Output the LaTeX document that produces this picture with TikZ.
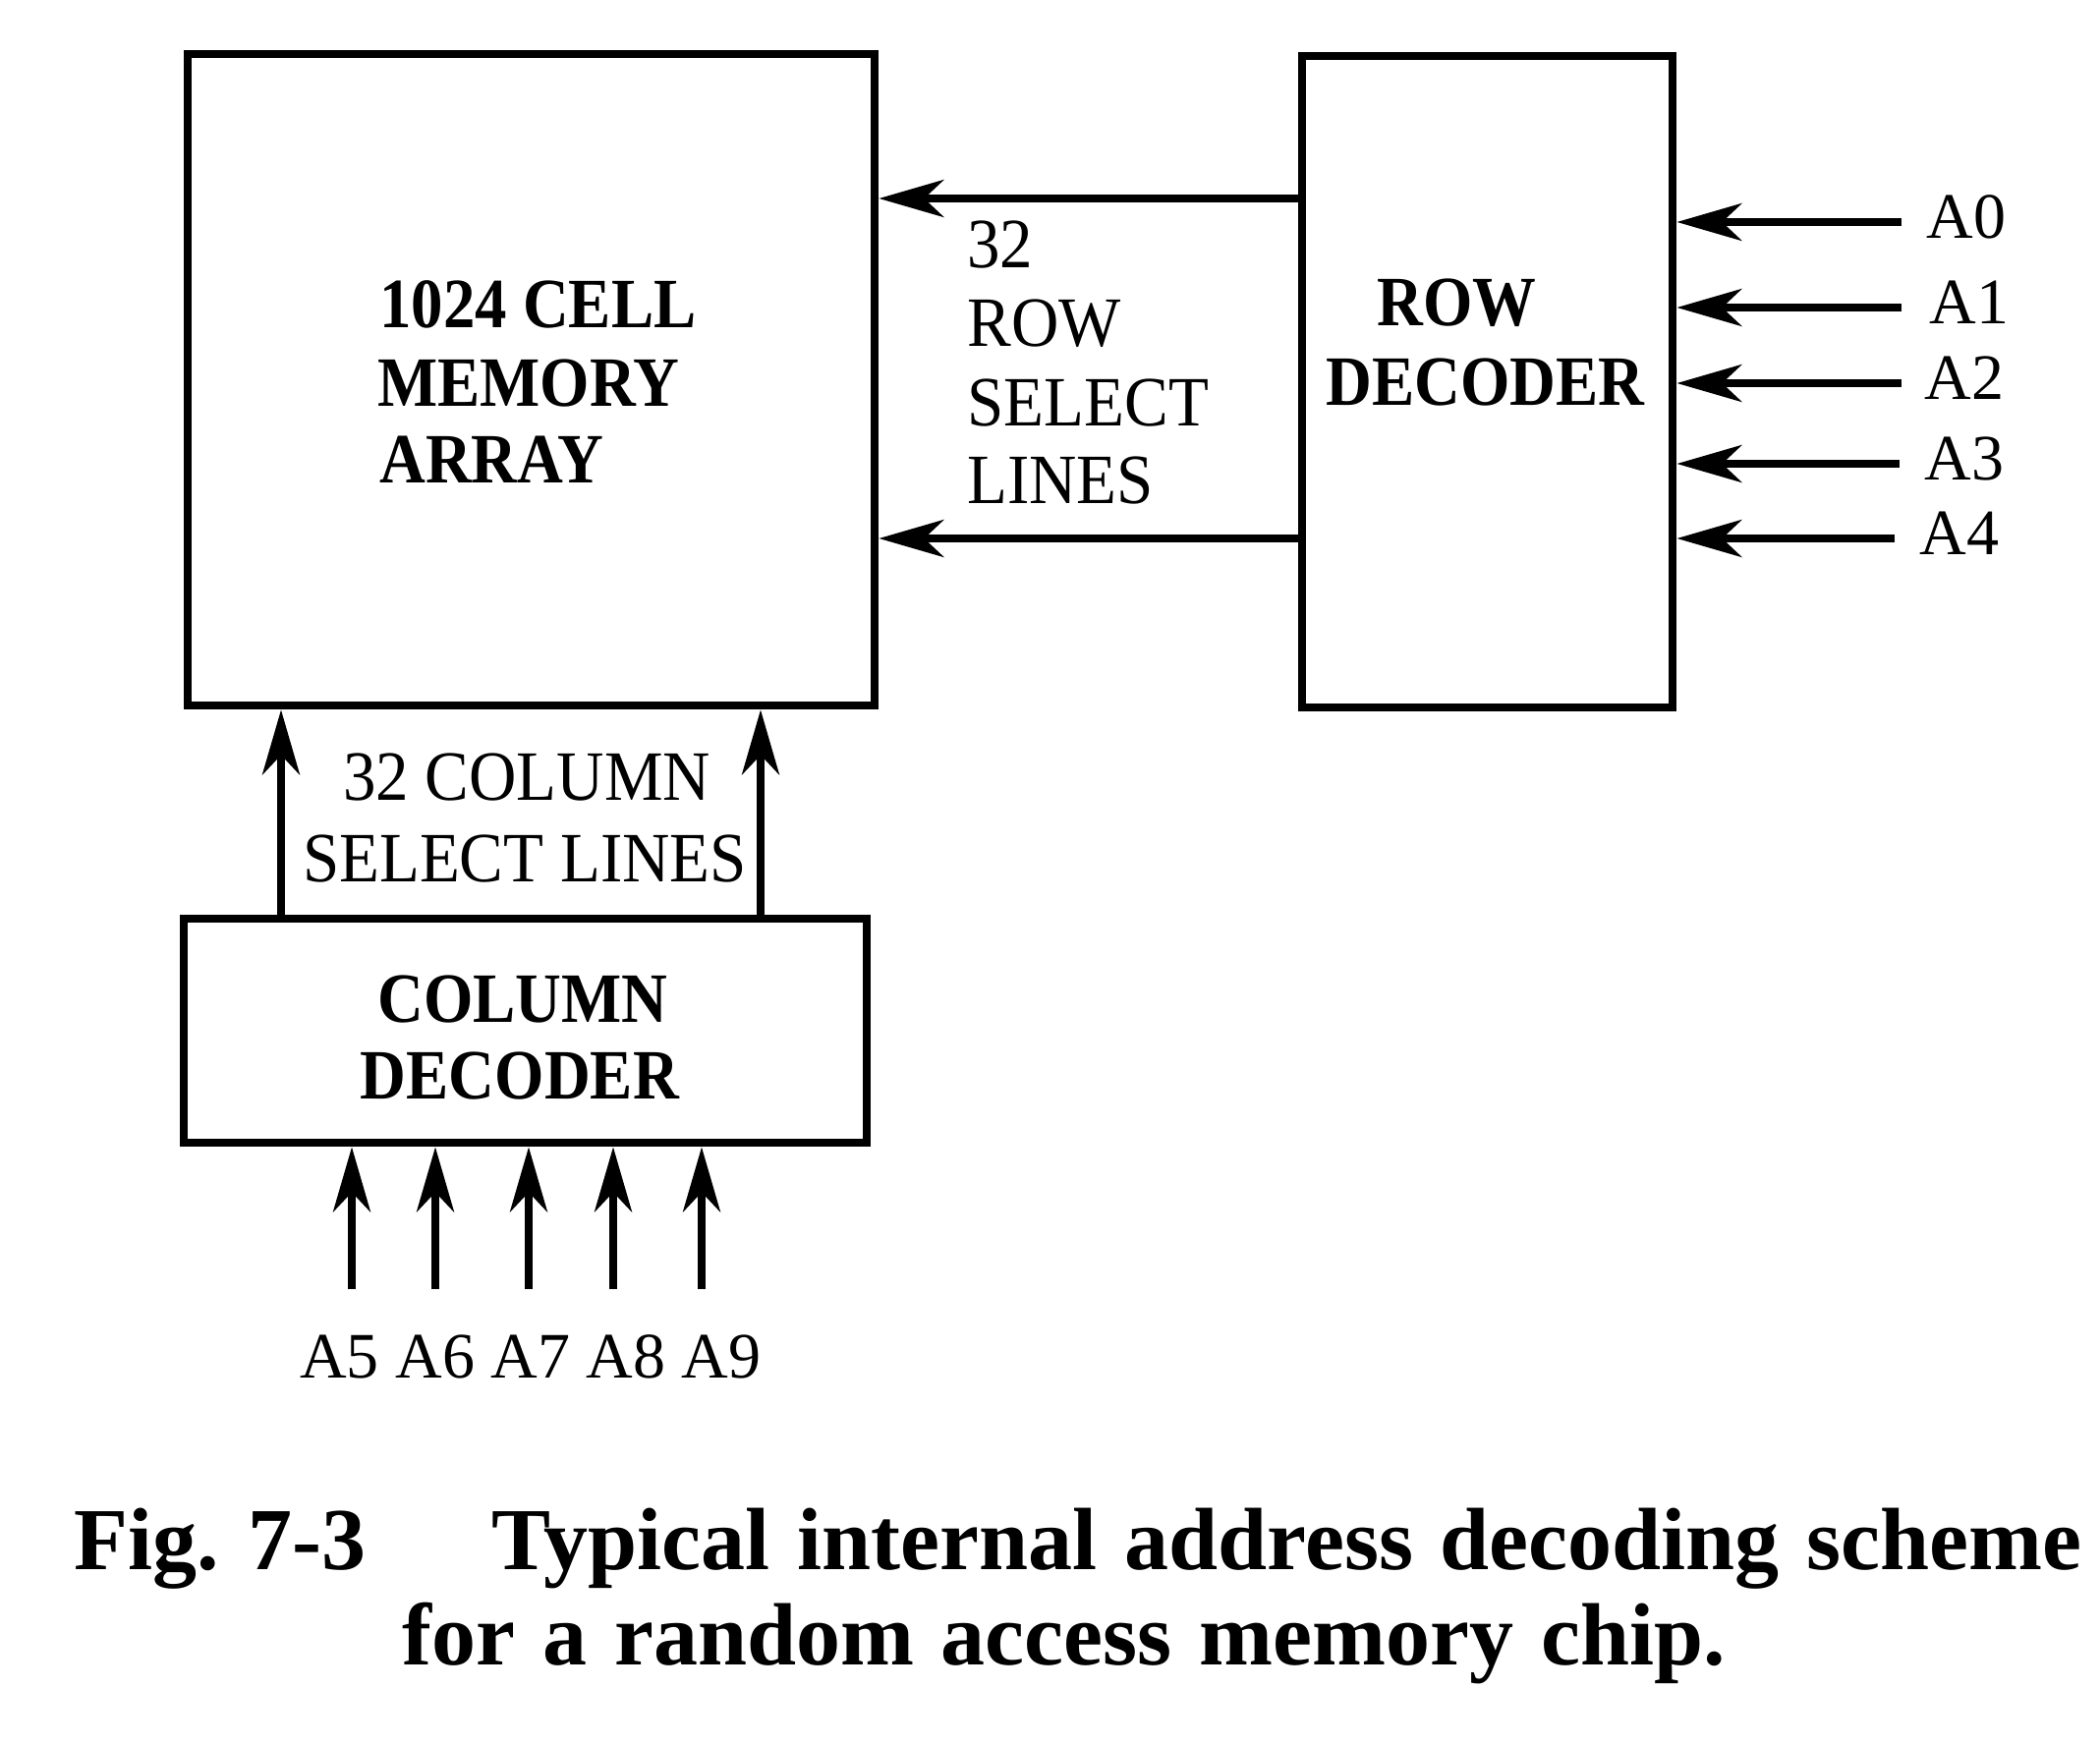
\documentclass[tikz,border=0pt]{standalone}
\usepackage{fontspec}
\setmainfont{Liberation Serif}
\newfontfamily\boxfont[FakeStretch=0.9]{Liberation Serif}
\newfontfamily\lblfont[FakeStretch=0.93]{Liberation Serif}
\usetikzlibrary{arrows.meta}
\tikzset{
  blk/.style={draw, line width=4.4pt, inner sep=0pt},
  arr/.style={line width=3.8pt, -{Stealth[length=33pt,width=19pt,inset=10pt]}},
  boxtxt/.style={inner sep=0pt, font=\boxfont\bfseries\fontsize{36}{40}\selectfont},
  seltxt/.style={inner sep=0pt, font=\lblfont\fontsize{36}{40}\selectfont},
  addr/.style={inner sep=0pt, font=\fontsize{33}{36}\selectfont},
  captxt/.style={inner sep=0pt, font=\bfseries\fontsize{45}{50}\selectfont, text=black}
}
\begin{document}
\begin{tikzpicture}[x=0.5pt,y=-0.5pt]
\useasboundingbox (0,0) rectangle (2137,1776);
% boxes
\node[blk, minimum width=349.5pt, minimum height=331.5pt] (mem) at (540.5,386.5) {};
\node[blk, minimum width=188.5pt, minimum height=331.5pt] (rowdec) at (1513.5,388.5) {};
\node[blk, minimum width=347.5pt, minimum height=114pt] (coldec) at (534.5,1049) {};
% box texts
\node[boxtxt, anchor=base west] (m1) at (386,334) {1024 CELL};
\node[boxtxt, anchor=base west] (m2) at (384,413) {MEMORY};
\node[boxtxt, anchor=base west] (m3) at (386,491) {ARRAY};
\node[boxtxt, anchor=base west] (r1) at (1401,331) {ROW};
\node[boxtxt, anchor=base west] (r2) at (1349,412) {DECODER};
\node[boxtxt, anchor=base] (c1) at (532,1040) {COLUMN};
\node[boxtxt, anchor=base] (c2) at (529,1118) {DECODER};
% row select lines
\draw[arr] (rowdec.west |- 0,202) -- (mem.east |- 0,202);
\draw[arr] (rowdec.west |- 0,548) -- (mem.east |- 0,548);
\node[seltxt, anchor=base west] (s1) at (984,273) {32};
\node[seltxt, anchor=base west] (s2) at (984,352) {ROW};
\node[seltxt, anchor=base west] (s3) at (984,433) {SELECT};
\node[seltxt, anchor=base west] (s4) at (984,512) {LINES};
% column select lines
\draw[arr] (coldec.north -| 286,0) -- (mem.south -| 286,0);
\draw[arr] (coldec.north -| 774,0) -- (mem.south -| 774,0);
\node[seltxt, anchor=base] (k1) at (536,814) {32 COLUMN};
\node[seltxt, anchor=base] (k2) at (534,897) {SELECT LINES};
% row address inputs
\foreach \n/\y/\xs/\xl in {0/226/1935/1960, 1/313/1935/1963, 2/390/1935/1958, 3/472/1933/1958, 4/548/1928/1953}{
  \coordinate (ra\n) at (\xs,\y);
  \draw[arr] (ra\n) -- (rowdec.east |- ra\n);
  \node[addr, anchor=west] (la\n) at (\xl,\y-5) {A\n};
}
% column address inputs
\foreach \n/\x in {5/358, 6/443, 7/538, 8/624, 9/714}{
  \coordinate (ca\n) at (\x,1312);
  \draw[arr] (ca\n) -- (coldec.south -| ca\n);
}
\node[addr] (lcol) at (540,1381) {A5 A6 A7 A8 A9};
% caption
\node[captxt, anchor=base west] (f1) at (75,1597) {Fig. 7-3};
\node[captxt, anchor=base west] (f2) at (500,1597) {\spaceskip=0.31em Typical internal address decoding scheme};
\node[captxt, anchor=base west] (f3) at (409,1694) {\spaceskip=0.31em for a random access memory chip.};
\end{tikzpicture}
\end{document}
